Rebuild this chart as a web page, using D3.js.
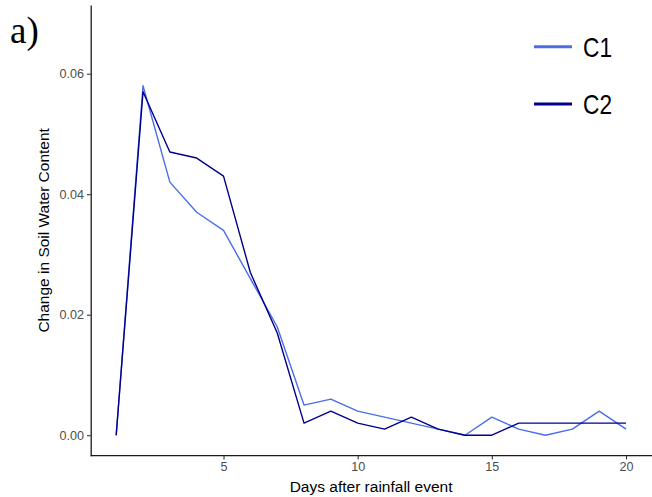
<!DOCTYPE html>
<html>
<head>
<meta charset="utf-8">
<script src="https://cdn.jsdelivr.net/npm/d3@7/dist/d3.min.js"></script>
<style>
  html, body { margin: 0; padding: 0; background: #fff; }
  svg { display: block; }
</style>
</head>
<body>
<svg id="chart" width="652" height="497"></svg>
<script>
// Days after the rainfall event
const days = [1, 2, 3, 4, 5, 6, 7, 8, 9, 10, 11, 12, 13, 14, 15, 16, 17, 18, 19, 20];
// Change in soil water content per treatment
const c1 = [0, 0.058, 0.042, 0.037, 0.034, 0.026, 0.018, 0.005, 0.006, 0.004,
            0.003, 0.002, 0.001, 0, 0.003, 0.001, 0, 0.001, 0.004, 0.001];
const c2 = [0, 0.057, 0.047, 0.046, 0.043, 0.027, 0.017, 0.002, 0.004, 0.002,
            0.001, 0.003, 0.001, 0, 0, 0.002, 0.002, 0.002, 0.002, 0.002];
const seriesNames = ["C1", "C2"];
const seriesColors = ["#4a6ee8", "#00008b"];
const xTicks = [5, 10, 15, 20];
const yTicks = [0, 0.02, 0.04, 0.06];

const svg = d3.select("#chart");
const panel = { left: 90.7, right: 651.5, top: 5, bottom: 455.7 };

const x = d3.scaleLinear().domain([0.05, 20.95]).range([panel.left, panel.right]);
const y = d3.scaleLinear().domain([-0.0034, 0.0714]).range([panel.bottom, panel.top]);

const series = seriesNames.map((name, i) => ({
  name,
  color: seriesColors[i],
  values: days.map((d, j) => ({ day: d, v: [c1, c2][i][j] }))
}));

// Lines
const line = d3.line().x(d => x(d.day)).y(d => y(d.v));
svg.append("g").selectAll("path")
  .data(series)
  .join("path")
  .attr("fill", "none")
  .attr("stroke", d => d.color)
  .attr("stroke-width", 1.4)
  .attr("stroke-linejoin", "round")
  .attr("d", d => line(d.values));

// Axes
const uiFont = "Liberation Sans, Arial, sans-serif";
const xAxis = svg.append("g")
  .attr("transform", `translate(0,${panel.bottom})`)
  .call(d3.axisBottom(x).tickValues(xTicks).tickSize(3.7).tickSizeOuter(0).tickPadding(3));
const yAxis = svg.append("g")
  .attr("transform", `translate(${panel.left},0)`)
  .call(d3.axisLeft(y).tickValues(yTicks).tickFormat(d3.format(".2f"))
        .tickSize(3.7).tickSizeOuter(0).tickPadding(3));

[xAxis, yAxis].forEach(g => {
  g.select(".domain").attr("stroke", "#1a1a1a").attr("stroke-width", 1.3);
  g.selectAll(".tick line").attr("stroke", "#333").attr("stroke-width", 1.1);
  g.selectAll(".tick text")
    .attr("fill", "#4d4d4d")
    .style("font-family", uiFont)
    .style("font-size", "12.6px");
});
// bottom axis line runs on to the right edge of the figure
xAxis.select(".domain").attr("d", `M${panel.left},0H652`);

// Axis titles
svg.append("text")
  .attr("x", (panel.left + panel.right) / 2)
  .attr("y", 491.5)
  .attr("text-anchor", "middle")
  .style("font-family", uiFont)
  .style("font-size", "15.5px")
  .attr("fill", "#000")
  .text("Days after rainfall event");

svg.append("text")
  .attr("transform", `translate(49,${(panel.top + panel.bottom) / 2}) rotate(-90)`)
  .attr("text-anchor", "middle")
  .style("font-family", uiFont)
  .style("font-size", "15.5px")
  .attr("fill", "#000")
  .text("Change in Soil Water Content");

// Panel tag
svg.append("text")
  .attr("x", 10)
  .attr("y", 43)
  .style("font-family", "Liberation Serif, Times New Roman, serif")
  .style("font-size", "37px")
  .attr("fill", "#000")
  .text("a)");

// Legend
const legend = svg.append("g");
const legendY = [46.7, 104];
series.forEach((s, i) => {
  legend.append("line")
    .attr("x1", 534).attr("x2", 572)
    .attr("y1", legendY[i]).attr("y2", legendY[i])
    .attr("stroke", s.color)
    .attr("stroke-width", 3);
  legend.append("text")
    .attr("x", 583)
    .attr("y", legendY[i])
    .attr("dy", "0.36em")
    .style("font-family", uiFont)
    .style("font-size", "28px")
    .attr("textLength", 29)
    .attr("lengthAdjust", "spacingAndGlyphs")
    .attr("fill", "#000")
    .text(s.name);
});
</script>
</body>
</html>
